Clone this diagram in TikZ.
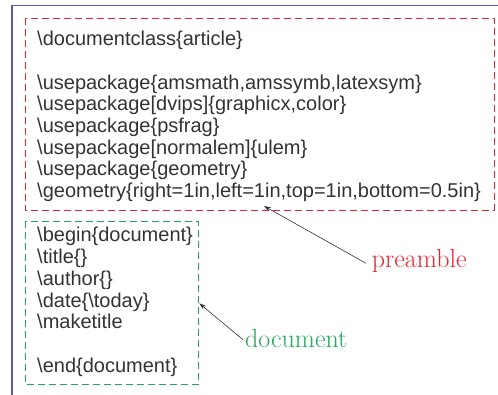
\documentclass[tikz,border=0pt]{standalone}
\usepackage{fontspec}
\newfontfamily\codefont{Liberation Sans}
\usetikzlibrary{arrows.meta}
\definecolor{framec}{HTML}{5A5AB0}
\definecolor{redc}{HTML}{EE2233}
\definecolor{greenc}{HTML}{1FA85A}
\definecolor{txt}{HTML}{333333}
\tikzset{
  codeline/.style={anchor=base west, inner sep=0pt, text=txt, font=\codefont\fontsize{20}{21.7}\selectfont},
  redbox/.style={draw=redc, line width=0.9pt, dash pattern=on 7pt off 4pt},
  greenbox/.style={draw=greenc, line width=0.9pt, dash pattern=on 7pt off 4pt},
  lbl/.style={anchor=base west, inner sep=0pt, font=\fontsize{26}{30}\selectfont},
  pointer/.style={draw=txt, line width=0.6pt, -{Stealth[length=7pt,width=4.5pt]}}
}
\begin{document}
\begin{tikzpicture}[x=1pt,y=-1pt]
\useasboundingbox (0,0) rectangle (498,395);
\draw[framec, line width=1.6pt] (11.7,395) -- (11.7,5.7) -- (498,5.7);
\draw[redbox] (25,18.3) rectangle (494.3,210);
\draw[greenbox] (25,221) rectangle (198,384.3);
\node[codeline] (l1) at (37,45.7) {\textbackslash documentclass\{article\}};
\node[codeline] (l2) at (37,89.1) {\textbackslash usepackage\{amsmath,amssymb,latexsym\}};
\node[codeline] (l3) at (37,110.8) {\textbackslash usepackage[dvips]\{graphicx,color\}};
\node[codeline] (l4) at (37,132.5) {\textbackslash usepackage\{psfrag\}};
\node[codeline] (l5) at (37,154.2) {\textbackslash usepackage[normalem]\{ulem\}};
\node[codeline] (l6) at (37,175.9) {\textbackslash usepackage\{geometry\}};
\node[codeline] (l7) at (37,197.6) {\textbackslash geometry\{right=1in,left=1in,top=1in,bottom=0.5in\}};
\node[codeline] (d1) at (37,242) {\textbackslash begin\{document\}};
\node[codeline] (d2) at (37,263.7) {\textbackslash title\{\}};
\node[codeline] (d3) at (37,285.4) {\textbackslash author\{\}};
\node[codeline] (d4) at (37,307.1) {\textbackslash date\{\textbackslash today\}};
\node[codeline] (d5) at (37,328.8) {\textbackslash maketitle};
\node[codeline] (d6) at (37,372.2) {\textbackslash end\{document\}};
\node[lbl, text=redc] (pre) at (371.7,268) {preamble};
\node[lbl, text=greenc] (doc) at (245,347.7) {document};
\coordinate (ptpre) at (264,206);
\coordinate (ptdoc) at (199.3,303.3);
\coordinate (spre) at (366,263.3);
\coordinate (sdoc) at (243.3,340);
\draw[pointer] (spre) -- (ptpre);
\draw[pointer] (sdoc) -- (ptdoc);
\end{tikzpicture}
\end{document}
